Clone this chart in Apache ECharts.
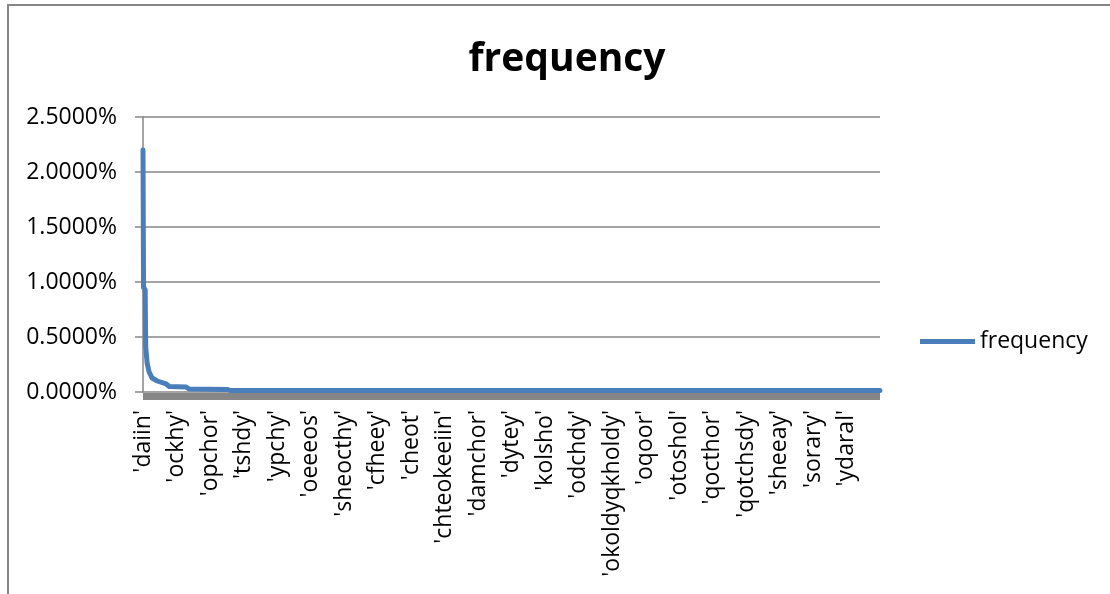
<!DOCTYPE html>
<html>
<head>
<meta charset="utf-8">
<script src="https://cdn.jsdelivr.net/npm/echarts@6/dist/echarts.min.js"></script>
<style>
html,body{margin:0;padding:0;background:#fff;overflow:hidden;}
#frame{position:absolute;left:7px;top:4px;width:1200px;height:700px;border-left:2px solid #868686;border-top:2px solid #868686;}
#chart{position:absolute;left:0;top:0;width:1110px;height:594px;}
</style>
</head>
<body>
<div id="frame"></div>
<div id="chart"></div>
<script>
// Category tick labels shown on the x axis (one every 370 words)
const tickLabels = ["'daiin'", "'ockhy'", "'opchor'", "'tshdy'", "'ypchy'", "'oeeeos'", "'sheocthy'", "'cfheey'", "'cheot'", "'chteokeeiin'", "'damchor'", "'dytey'", "'kolsho'", "'odchdy'", "'okoldyqkholdy'", "'oqoor'", "'otoshol'", "'qocthor'", "'qotchsdy'", "'sheeay'", "'sorary'", "'ydaral'"];
const wordsPerLabel = 370;
const totalWords = 8140;
// Word rank (0 = most frequent) and frequency in percent, read at the curve's break points
const ranks   = [0,    6,    24,   30,   46,   68,   101,   157,  256,   290,  477,   510,   930,   963,    8139];
const freqPct = [2.20, 0.95, 0.93, 0.41, 0.26, 0.18, 0.127, 0.10, 0.073, 0.05, 0.045, 0.027, 0.023, 0.0136, 0.0136];
const yTicks = {min: 0, max: 2.5, step: 0.5};

const FONT = 'Open Sans';
const GRAY = '#868686';
const BLUE = '#4a7ebb';

const chart = echarts.init(document.getElementById('chart'), null, {renderer: 'canvas'});
chart.setOption({
  animation: false,
  backgroundColor: 'transparent',
  title: {
    text: 'frequency',
    left: 562, top: 35, textAlign: 'center',
    textStyle: {fontFamily: FONT, fontWeight: 'bold', fontSize: 39, color: '#000'}
  },
  legend: {
    left: 920, top: 330, padding: 0,
    itemWidth: 55, itemHeight: 5, itemGap: 6,
    data: [{name: 'frequency', icon: 'rect'}],
    textStyle: {fontFamily: FONT, fontSize: 23, color: '#000'}
  },
  grid: {left: 143, right: 230, top: 117, bottom: 202, containLabel: false},
  xAxis: {
    type: 'value', min: 0, max: totalWords, interval: wordsPerLabel,
    offset: 4,
    axisLine: {show: true, onZero: false, lineStyle: {color: GRAY, width: 7, cap: 'butt'}},
    axisTick: {show: false},
    splitLine: {show: false},
    axisLabel: {
      rotate: 90, margin: 14,
      fontFamily: FONT, fontSize: 23, color: '#000',
      formatter: v => { const i = Math.round(v / wordsPerLabel); return tickLabels[i] || ''; }
    }
  },
  yAxis: {
    type: 'value', min: yTicks.min, max: yTicks.max, interval: yTicks.step,
    axisLine: {show: true, lineStyle: {color: GRAY, width: 1.5}},
    axisTick: {show: true, length: 8, lineStyle: {color: GRAY, width: 1.5}},
    splitLine: {show: true, lineStyle: {color: GRAY, width: 1.5}},
    axisLabel: {
      margin: 26, fontFamily: FONT, fontSize: 23, color: '#000',
      formatter: v => v.toFixed(4) + '%'
    }
  },
  series: [{
    name: 'frequency', type: 'line',
    data: ranks.map((r, i) => [r, freqPct[i]]),
    showSymbol: false, symbol: 'none',
    lineStyle: {color: BLUE, width: 5, cap: 'round', join: 'round'},
    itemStyle: {color: BLUE}
  }]
});
</script>
</body>
</html>
